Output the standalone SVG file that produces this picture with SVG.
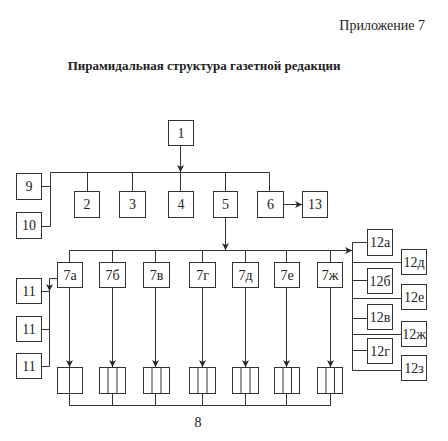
<svg xmlns="http://www.w3.org/2000/svg" width="448" height="441" viewBox="0 0 448 441">
<defs>
<style>
.b{fill:#fff;stroke:#333;stroke-width:1}
.c{fill:none;stroke:#333;stroke-width:1}
text{font-family:"Liberation Serif","Times New Roman",serif;fill:#222}
.n{font-size:14px;text-anchor:middle}
</style>
<marker id="a" viewBox="0 0 10 10" refX="10" refY="5" markerWidth="7" markerHeight="7" orient="auto" markerUnits="userSpaceOnUse"><path d="M0,0 L10,5 L0,10 L3,5 z" fill="#222"/></marker>
</defs>
<rect width="448" height="441" fill="#fff"/>
<text x="425" y="30" font-size="14" text-anchor="end">Приложение 7</text>
<text x="204" y="70" font-size="13" font-weight="bold" text-anchor="middle">Пирамидальная структура газетной редакции</text>

<g id="connectors">
<path class="c" d="M180.5,145 V172" marker-end="url(#a)"/>
<path class="c" d="M50.5,172.5 H269.5 M50.5,172.5 V226.5 H41 M41,186.5 H50.5 M87.5,172.5 V191 M132.5,172.5 V191 M180.5,172.5 V191 M225.5,172.5 V191 M269.5,172.5 V191"/>
<path class="c" d="M283,204.5 H302" marker-end="url(#a)"/>
<path class="c" d="M225.5,217 V250" marker-end="url(#a)"/>
<path class="c" d="M69.5,250.5 H352" marker-end="url(#a)"/>
<path class="c" d="M69.5,250.5 V262 M112.5,250.5 V262 M155.5,250.5 V262 M202.5,250.5 V262 M245.5,250.5 V262 M286.5,250.5 V262 M330.5,250.5 V262"/>
<path class="c" d="M352.5,242.5 V370.5 M352.5,242.5 H367 M352.5,262.5 H401 M352.5,280.5 H367 M352.5,298.5 H401 M352.5,318.5 H367 M352.5,334.5 H401 M352.5,350.5 H367 M352.5,370.5 H401"/>
<path class="c" d="M57,278.5 H49.5 V291" marker-end="url(#a)"/>
<path class="c" d="M49.5,291 V366.5 H41 M41,291.5 H49.5 M41,329.5 H49.5"/>
<g marker-end="url(#a)">
<path class="c" d="M69.5,287 V367"/>
<path class="c" d="M112.5,287 V367"/>
<path class="c" d="M155.5,287 V367"/>
<path class="c" d="M202.5,287 V367"/>
<path class="c" d="M245.5,287 V367"/>
<path class="c" d="M286.5,287 V367"/>
<path class="c" d="M330.5,287 V367"/>
</g>
<path class="c" d="M69.5,393 V405.5 H330.5 V393 M112.5,393 V405.5 M155.5,393 V405.5 M202.5,393 V405.5 M245.5,393 V405.5 M286.5,393 V405.5"/>
</g>

<g id="n1"><rect class="b" x="168.5" y="120.5" width="25" height="25"/><text class="n" x="181" y="138">1</text></g>
<g id="n9"><rect class="b" x="16.5" y="173.5" width="25" height="26"/><text class="n" x="29" y="191">9</text></g>
<g id="n10"><rect class="b" x="16.5" y="212.5" width="25" height="26"/><text class="n" x="29" y="230">10</text></g>
<g id="n2"><rect class="b" x="74.5" y="191.5" width="25" height="26"/><text class="n" x="87" y="209">2</text></g>
<g id="n3"><rect class="b" x="119.5" y="191.5" width="26" height="26"/><text class="n" x="132.5" y="209">3</text></g>
<g id="n4"><rect class="b" x="168.5" y="191.5" width="25" height="26"/><text class="n" x="181" y="209">4</text></g>
<g id="n5"><rect class="b" x="213.5" y="191.5" width="24" height="26"/><text class="n" x="225.5" y="209">5</text></g>
<g id="n6"><rect class="b" x="257.5" y="191.5" width="26" height="26"/><text class="n" x="270.5" y="209">6</text></g>
<g id="n13"><rect class="b" x="302.5" y="191.5" width="25" height="26"/><text class="n" x="315" y="209">13</text></g>

<g id="n7a"><rect class="b" x="57.5" y="262.5" width="25" height="25"/><text class="n" x="70" y="280">7а</text></g>
<g id="n7b"><rect class="b" x="99.5" y="262.5" width="26" height="25"/><text class="n" x="112.5" y="280">7б</text></g>
<g id="n7v"><rect class="b" x="143.5" y="262.5" width="26" height="25"/><text class="n" x="156.5" y="280">7в</text></g>
<g id="n7g"><rect class="b" x="189.5" y="262.5" width="26" height="25"/><text class="n" x="202.5" y="280">7г</text></g>
<g id="n7d"><rect class="b" x="232.5" y="262.5" width="26" height="25"/><text class="n" x="245.5" y="280">7д</text></g>
<g id="n7e"><rect class="b" x="274.5" y="262.5" width="25" height="25"/><text class="n" x="287" y="280">7е</text></g>
<g id="n7zh"><rect class="b" x="317.5" y="262.5" width="25" height="25"/><text class="n" x="330" y="280">7ж</text></g>

<g id="n11a"><rect class="b" x="16.5" y="278.5" width="25" height="25"/><text class="n" x="29" y="296">11</text></g>
<g id="n11b"><rect class="b" x="16.5" y="316.5" width="25" height="25"/><text class="n" x="29" y="334">11</text></g>
<g id="n11c"><rect class="b" x="16.5" y="353.5" width="25" height="25"/><text class="n" x="29" y="371">11</text></g>

<g id="n12a"><rect class="b" x="367.5" y="229.5" width="25" height="26"/><text class="n" x="380" y="247">12а</text></g>
<g id="n12d"><rect class="b" x="401.5" y="249.5" width="25" height="25"/><text class="n" x="414" y="267">12д</text></g>
<g id="n12b"><rect class="b" x="367.5" y="268.5" width="25" height="25"/><text class="n" x="380" y="286">12б</text></g>
<g id="n12e"><rect class="b" x="401.5" y="284.5" width="25" height="25"/><text class="n" x="414" y="302">12е</text></g>
<g id="n12v"><rect class="b" x="367.5" y="304.5" width="25" height="25"/><text class="n" x="380" y="322">12в</text></g>
<g id="n12zh"><rect class="b" x="401.5" y="321.5" width="25" height="25"/><text class="n" x="414" y="339">12ж</text></g>
<g id="n12g"><rect class="b" x="367.5" y="338.5" width="25" height="25"/><text class="n" x="380" y="356">12г</text></g>
<g id="n12z"><rect class="b" x="401.5" y="355.5" width="25" height="25"/><text class="n" x="414" y="373">12з</text></g>

<g id="n8">
<rect class="b" x="57.5" y="367.5" width="25" height="26"/><path class="c" d="M69.5,367.5 V393.5"/>
<rect class="b" x="99.5" y="367.5" width="26" height="26"/><path class="c" d="M108,367.5 V393.5 M117,367.5 V393.5"/>
<rect class="b" x="143.5" y="367.5" width="26" height="26"/><path class="c" d="M152,367.5 V393.5 M161,367.5 V393.5"/>
<rect class="b" x="189.5" y="367.5" width="26" height="26"/><path class="c" d="M198,367.5 V393.5 M207,367.5 V393.5"/>
<rect class="b" x="232.5" y="367.5" width="26" height="26"/><path class="c" d="M241,367.5 V393.5 M250,367.5 V393.5"/>
<rect class="b" x="274.5" y="367.5" width="25" height="26"/><path class="c" d="M283,367.5 V393.5 M291.5,367.5 V393.5"/>
<rect class="b" x="317.5" y="367.5" width="25" height="26"/><path class="c" d="M326,367.5 V393.5 M334.5,367.5 V393.5"/>
<text class="n" x="198" y="427">8</text>
</g>
</svg>
